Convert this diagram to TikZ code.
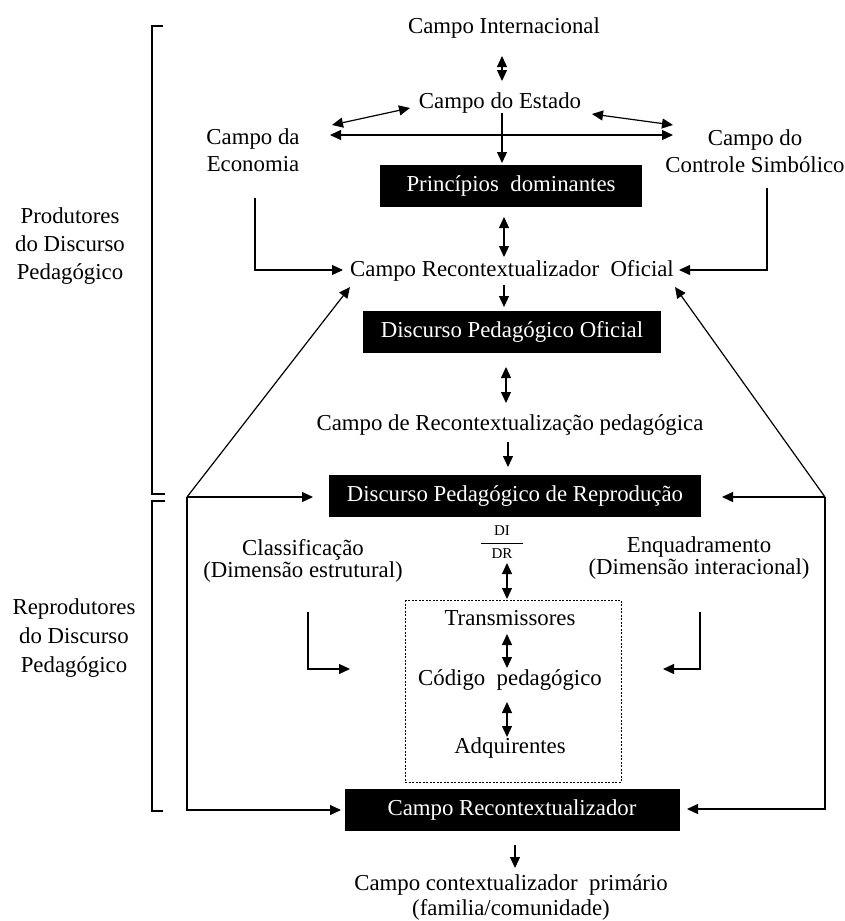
\documentclass[tikz,border=0pt]{standalone}
\usepackage{fontspec}
\setmainfont{Liberation Serif}
\usetikzlibrary{arrows.meta}
\begin{document}
\begin{tikzpicture}[x=1pt,y=-1pt,
  every node/.style={inner sep=0pt},
  txt/.style={align=center,font=\fontsize{22.8}{27}\selectfont},
  txtb/.style={align=center,font=\fontsize{22.8}{22}\selectfont},
  small/.style={font=\fontsize{15}{15}\selectfont},
  bbox/.style={fill=black,text=white,font=\fontsize{22.8}{27}\selectfont,minimum height=42pt},
  ln/.style={line width=1.2pt},
  tip/.tip={Triangle[length=11pt,width=10pt]},
  arr/.style={ln,-tip},
  dbl/.style={ln,tip-tip},
  brk/.style={line width=1.3pt},
  dashbox/.style={line width=0.8pt,dash pattern=on 2pt off 1.5pt}
]
\useasboundingbox[fill=white] (0,0) rectangle (845,921);

% ---- text nodes ----
\node[txt] (intl) at (504,28) {Campo Internacional};
\node[txt] (estado) at (500,103) {Campo do Estado};
\node[txt] (econ) at (253,150) {Campo da\\Economia};
\node[txt] (ctrl) at (755,151) {Campo do\\Controle Simbólico};
\node[bbox,minimum width=262pt] (princ) at (511,186) {Princípios\ \ dominantes};
\node[txt] (cro) at (512,271) {Campo Recontextualizador\ \ Oficial};
\node[bbox,minimum width=298pt] (dpo) at (512,331.5) {Discurso Pedagógico Oficial};
\node[txt] (crp) at (510,425) {Campo de Recontextualização pedagógica};
\node[bbox,minimum width=372pt] (dpr) at (515,496) {Discurso Pedagógico de Reprodução};
\node[small] (di) at (502,531) {DI};
\node[small] (dr) at (502,554) {DR};
\node[txtb] (class) at (303,561) {Classificação\\(Dimensão estrutural)};
\node[txtb] (enq) at (699,558) {Enquadramento\\(Dimensão interacional)};
\node[txt] (trans) at (510,618) {Transmissores};
\node[txt] (cod) at (510,680) {Código\ \ pedagógico};
\node[txt] (adq) at (510,748) {Adquirentes};
\node[bbox,minimum width=335pt] (cr) at (512,810) {Campo Recontextualizador};
\node[txt,font=\fontsize{22.8}{25}\selectfont] (ccp) at (511,897) {Campo contextualizador\ \ primário\\(familia/comunidade)};
\node[txt,font=\fontsize{22.8}{28}\selectfont] (prod) at (70,246) {Produtores\\do Discurso\\Pedagógico};
\node[txt,font=\fontsize{22.8}{29}\selectfont] (repr) at (74,638) {Reprodutores\\do Discurso\\Pedagógico};

% ---- dashed box ----
\coordinate (dbA) at (405,600);
\coordinate (dbB) at (621,782);
\draw[dashbox] (dbA) rectangle (dbB);

% ---- fraction line ----
\coordinate (frL) at (481,543);
\coordinate (frR) at (523,543);
\draw[line width=0.8pt] (frL) -- (frR);

% ---- brackets ----
\coordinate (b1a) at (163,26);
\coordinate (b1b) at (152,26);
\coordinate (b1c) at (152,494);
\coordinate (b1d) at (165,494);
\draw[brk] (b1a) -- (b1b) -- (b1c) -- (b1d);
\coordinate (b2a) at (165,501);
\coordinate (b2b) at (152,501);
\coordinate (b2c) at (152,811);
\coordinate (b2d) at (163,811);
\draw[brk] (b2a) -- (b2b) -- (b2c) -- (b2d);

% ---- top connectors ----
\coordinate (i1) at (502,56);
\coordinate (i2) at (502,81);
\draw[dbl] (i1) -- (i2);

\coordinate (se1) at (410,108);
\coordinate (se2) at (332,125);
\draw[dbl] (se1) -- (se2);

\coordinate (sc1) at (592,114);
\coordinate (sc2) at (673,125);
\draw[dbl] (sc1) -- (sc2);

\coordinate (h1) at (330,135);
\coordinate (h2) at (673,135);
\draw[dbl] (h1) -- (h2);

\coordinate (ep1) at (502,113);
\coordinate (ep2) at (502,163);
\draw[arr] (ep1) -- (ep2);

\coordinate (pc1) at (504,217);
\coordinate (pc2) at (504,257);
\draw[dbl] (pc1) -- (pc2);

\coordinate (ec1) at (255,198);
\coordinate (ec2) at (343,270);
\draw[arr] (ec1) |- (ec2);

\coordinate (cc1) at (767,188);
\coordinate (cc2) at (679,270);
\draw[arr] (cc1) |- (cc2);

\coordinate (cd1) at (504,285);
\coordinate (cd2) at (504,307);
\draw[arr] (cd1) -- (cd2);

\coordinate (dp1) at (506,367);
\coordinate (dp2) at (506,403);
\draw[dbl] (dp1) -- (dp2);

\coordinate (rp1) at (508,442);
\coordinate (rp2) at (508,467);
\draw[arr] (rp1) -- (rp2);

% ---- middle ----
\coordinate (dt1) at (507,563);
\coordinate (dt2) at (507,599);
\draw[dbl] (dt1) -- (dt2);

\coordinate (tc1) at (507,634);
\coordinate (tc2) at (507,668);
\draw[dbl] (tc1) -- (tc2);

\coordinate (ca1) at (507,702);
\coordinate (ca2) at (507,737);
\draw[dbl] (ca1) -- (ca2);

\coordinate (cl1) at (308,612);
\coordinate (cl2) at (350,669);
\draw[arr] (cl1) |- (cl2);

\coordinate (en1) at (700,612);
\coordinate (en2) at (663,669);
\draw[arr] (en1) |- (en2);

% ---- outer loops ----
\coordinate (L) at (187,497);
\coordinate (R) at (825,497);
\coordinate (Lcro) at (350,287);
\coordinate (Rcro) at (675,287);
\coordinate (Ldpr) at (313,497);
\coordinate (Rdpr) at (722,497);
\coordinate (Lcr) at (341,810);
\coordinate (Rcr) at (687,809);
\draw[arr] (L) -- (Lcro);
\draw[arr] (R) -- (Rcro);
\draw[arr] (L) -- (Ldpr);
\draw[arr] (R) -- (Rdpr);
\draw[arr] (L) |- (Lcr);
\draw[arr] (R) |- (Rcr);

% ---- bottom ----
\coordinate (bt1) at (515,845);
\coordinate (bt2) at (515,868);
\draw[arr] (bt1) -- (bt2);
\end{tikzpicture}
\end{document}
